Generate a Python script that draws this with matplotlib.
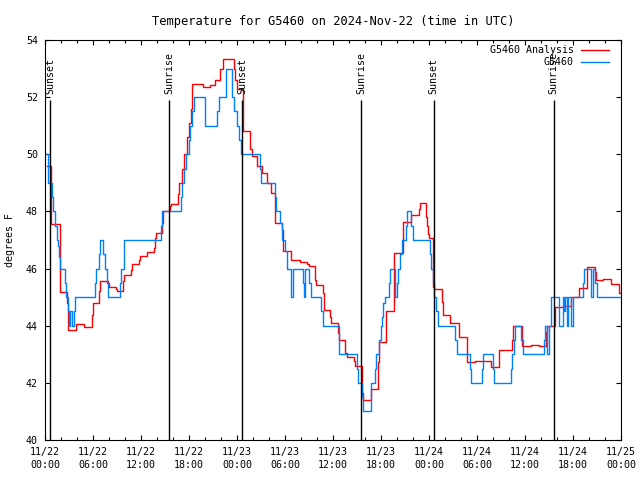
import matplotlib
matplotlib.use("Agg")
import matplotlib.pyplot as plt
from matplotlib.ticker import MultipleLocator

plt.rcParams['font.family'] = ['DejaVu Sans Mono']
plt.rcParams['font.size'] = 7.2

# hours since 2024-11-22 00:00 UTC
obs_hours = [0.25, 0.4, 0.875, 1.04, 1.25, 1.46, 1.58, 1.75, 1.83, 2.46, 2.58, 2.875, 3.0, 3.17,
             3.42, 3.625, 3.75, 6.25, 6.42, 6.75, 6.875, 7.29, 7.46, 7.79, 7.92, 9.33, 9.54, 9.875,
             14.46, 14.6, 16.96, 17.16, 17.38, 17.58, 18.0, 18.12, 18.4, 18.6, 20.0, 21.5, 21.7,
             22.6, 23.4, 23.6, 24.0, 24.3, 24.5, 26.9, 27.0, 28.75, 28.85, 29.4, 29.6, 30.0, 30.2,
             30.7, 31.0, 32.2, 32.4, 32.5, 33.0, 33.3, 34.5, 34.7, 36.7, 36.8, 39.0, 39.1, 39.6,
             39.7, 40.7, 40.8, 41.3, 41.4, 41.7, 41.95, 42.1, 42.3, 42.5, 43.0, 43.1, 43.75, 44.0,
             44.1, 44.4, 44.6, 45.1, 45.2, 45.8, 46.0, 48.1, 48.3, 48.5, 48.6, 48.9, 49.1, 51.25,
             51.45, 53.1, 53.2, 54.6, 54.8, 56.0, 56.1, 58.25, 58.4, 58.6, 58.8, 59.5, 59.7, 62.4,
             62.5, 62.75, 63.0, 63.2, 63.3, 64.3, 64.7, 64.9, 65.05, 65.2, 65.35, 65.8, 65.95,
             67.3, 67.4, 68.25, 68.5, 68.8, 69.0, 72.0]
obs_temp = [50.0, 49.0, 48.5, 48.0, 47.5, 47.0, 46.8, 46.4, 46.0, 45.5, 45.0, 44.5, 44.0, 44.5,
            44.0, 44.5, 45.0, 45.5, 46.0, 46.5, 47.0, 46.5, 46.0, 45.5, 45.0, 45.5, 46.0, 47.0,
            47.5, 48.0, 48.5, 49.0, 49.5, 50.0, 50.5, 51.0, 51.5, 52.0, 51.0, 51.5, 52.0,
            53.0, 52.0, 51.5, 51.0, 50.5, 50.0, 49.5, 49.0, 48.5, 48.0, 47.6, 47.0, 46.6, 46.0,
            45.0, 46.0, 45.5, 45.0, 46.0, 45.5, 45.0, 44.5, 44.0, 43.5, 43.0, 42.5, 42.0, 41.5,
            41.0, 41.5, 42.0, 42.5, 43.0, 43.5, 44.0, 44.3, 44.8, 45.0, 45.5, 46.0, 45.0, 45.5,
            46.0, 46.5, 47.0, 47.5, 48.0, 47.5, 47.0, 46.5, 46.0, 45.5, 45.0, 44.5, 44.0, 43.5,
            43.0, 42.5, 42.0, 42.5, 43.0, 42.5, 42.0, 42.5, 43.0, 43.5, 44.0, 43.5, 43.0, 43.5,
            44.0, 43.0, 44.0, 44.5, 45.0, 44.0, 45.0, 44.5, 45.0, 44.0, 45.0, 44.0, 45.0,
            45.5, 46.0, 45.0, 46.0, 45.5, 45.0, 45.0]

ana_hours = [0.25, 0.8, 1.83, 2.7, 2.9, 3.83, 4.875, 5.83, 5.95, 6.75, 6.9, 7.83, 7.95, 8.875,
             9.0, 9.8, 9.9, 10.8, 10.9, 11.8, 11.9, 12.7, 12.8, 13.67, 13.75, 13.85, 14.6, 14.7,
             15.6, 15.7, 16.67, 16.8, 17.1, 17.4, 17.7, 18.0, 18.2, 18.4, 19.7, 20.6, 21.3, 21.9,
             22.3, 23.6, 23.8, 24.0, 24.7, 25.6, 25.9, 26.5, 27.1, 27.8, 28.3, 28.8, 29.6, 29.7,
             29.8, 30.7, 31.9, 32.8, 33.0, 33.75, 33.85, 34.7, 34.85, 35.6, 35.7, 36.6, 36.75,
             37.5, 37.7, 38.6, 38.7, 39.6, 39.75, 40.7, 41.67, 41.8, 42.6, 43.6, 44.7, 44.8, 45.7,
             46.7, 46.9, 47.6, 47.75, 47.85, 48.0, 48.5, 48.6, 49.6, 49.7, 50.6, 51.7, 51.8, 52.7,
             52.8, 53.75, 55.8, 56.7, 58.4, 58.5, 59.6, 60.75, 61.7, 62.6, 62.7, 63.7, 64.8, 65.7,
             65.8, 66.75, 67.7, 68.7, 68.85, 69.8, 70.75, 71.7, 72.0]
ana_temp = [49.6, 47.56, 45.17, 44.8, 43.85, 44.06, 43.97, 44.38, 44.78, 45.2, 45.56, 45.48, 45.37, 45.27,
            45.21, 45.56, 45.76, 45.95, 46.16, 46.3, 46.44, 46.5, 46.57, 46.71, 47.06, 47.23, 47.6, 48.0,
            48.2, 48.26, 48.6, 49.0, 49.5, 50.0, 50.6, 51.1, 51.6, 52.45, 52.35, 52.42, 52.6, 53.0,
            53.33, 53.0, 52.6, 52.3, 50.8, 50.17, 49.94, 49.6, 49.33, 48.98, 48.63, 47.58, 47.35, 47.06,
            46.63, 46.3, 46.22, 46.15, 46.09, 45.6, 45.43, 45.13, 44.55, 44.3, 44.08, 43.73, 43.5,
            43.03, 42.92, 42.75, 42.6, 41.63, 41.4, 41.78, 42.74, 43.42, 44.52, 46.53, 47.06, 47.62, 47.88,
            48.1, 48.28, 47.82, 47.5, 47.2, 47.06, 45.37, 45.3, 44.84, 44.38, 44.08, 43.85, 43.6, 43.15,
            42.74, 42.77, 42.57, 43.15, 43.5, 44.0, 43.3, 43.34, 43.3, 43.79, 44.0, 44.67, 44.7, 44.85,
            45.0, 45.33, 46.07, 45.89, 45.6, 45.64, 45.45, 45.13, 45.13]

sun_hours = [0.65, 15.54, 24.65, 39.54, 48.58, 63.58]
sun_labels = ["Sunset", "Sunrise", "Sunset", "Sunrise", "Sunset", "Sunrise"]

xtick_labels = ["11/22\n00:00", "11/22\n06:00", "11/22\n12:00", "11/22\n18:00",
                "11/23\n00:00", "11/23\n06:00", "11/23\n12:00", "11/23\n18:00",
                "11/24\n00:00", "11/24\n06:00", "11/24\n12:00", "11/24\n18:00",
                "11/25\n00:00"]

fig = plt.figure(figsize=(6.4, 4.8), dpi=100)
ax = fig.add_axes([45/640, 40/480, 576/640, 400/480])

ax.step(ana_hours, ana_temp, where='post', color='#ff0000', lw=1.0)
ax.step(obs_hours, obs_temp, where='post', color='#0080ff', lw=1.0)

# sunrise / sunset markers
ax.vlines(sun_hours, 40, 51.9, color='black', lw=1.0)
for h, lbl in zip(sun_hours, sun_labels):
    ax.text(h, 52.12, lbl, rotation=90, ha='center', va='bottom')

ax.set_xlim(0, 72)
ax.set_ylim(40, 54)
ax.set_xticks(range(0, 73, 6))
ax.set_xticklabels(xtick_labels, linespacing=1.35)
ax.xaxis.set_minor_locator(MultipleLocator(2))
ax.set_yticks(range(40, 55, 2))
ax.tick_params(which='both', direction='in', top=True, right=True, width=0.8)
ax.tick_params(which='major', length=3.8, pad=5)
ax.tick_params(which='minor', length=1.9)
for s in ax.spines.values():
    s.set_linewidth(0.8)

ax.set_title("Temperature for G5460 on 2024-Nov-22 (time in UTC)", pad=11)
fig.text(10/640, 0.5, "degrees F", rotation=90, ha='center', va='center')

# key, gnuplot style (text right aligned, sample to the right)
for i, (lbl, col) in enumerate([("G5460 Analysis", '#ff0000'), ("G5460", '#0080ff')]):
    y = 0.975 - i * 0.03
    ax.text(0.918, y, lbl, transform=ax.transAxes, ha='right', va='center')
    ax.plot([0.931, 0.979], [y, y], transform=ax.transAxes, color=col, lw=1.0)

fig.savefig("out.png", dpi=100)
